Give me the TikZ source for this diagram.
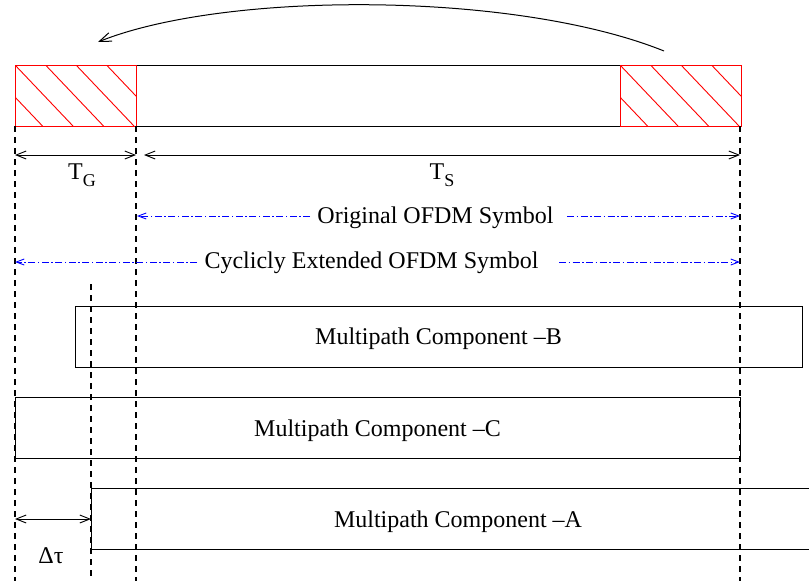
\documentclass[tikz,border=0pt]{standalone}
\usepackage{fontspec}
\setmainfont{Liberation Serif}
\usetikzlibrary{arrows.meta}
\begin{document}
\begin{tikzpicture}[x=1pt,y=-1pt,
  every node/.style={font=\fontsize{24}{28}\selectfont, inner sep=0pt},
  ln/.style={line width=1pt},
  guide/.style={line width=1.2pt, dash pattern=on 6pt off 5pt},
  span/.style={line width=0.9pt, {Straight Barb[length=10pt,width=8pt]}-{Straight Barb[length=10pt,width=8pt]}},
  blueline/.style={blue, line width=0.9pt, dash pattern=on 7pt off 2.5pt on 1.5pt off 2.5pt,
                   -{Straight Barb[length=8pt,width=6pt]}},
  cpbox/.style={minimum width=121pt, minimum height=61pt, anchor=north west},
  hatchline/.style={red, line width=0.9pt},
  pathbox/.style={draw, line width=1pt, minimum height=61pt, text height=16pt, text depth=0pt}]

\useasboundingbox (0,0) rectangle (809,581);
\clip (0,0) rectangle (809,581);

% ---- OFDM symbol with cyclic prefix -------------------------------------
\node (body) [anchor=north west, minimum width=484pt, minimum height=61pt] at (136,65) {};
\draw[ln] (body.north west) -- (body.north east) (body.south west) -- (body.south east);

\node (cpL) [cpbox] at (15,65) {};
\node (cpR) [cpbox] at (620,65) {};
\foreach \b/\x in {cpL/15, cpR/620}{
  \begin{scope}
    \clip (\b.north west) rectangle (\b.south east);
    \foreach \k in {-3,...,4}
      \draw[hatchline] (\x+\k*30.5,65) -- ++(58,61);
  \end{scope}
  \draw[red, line width=1pt] (\b.north west) rectangle (\b.south east);
}

% copy of the tail into the prefix
\coordinate (tailStart) at (664,51);
\coordinate (headEnd) at (98,42);
\draw[ln, -{Straight Barb[length=12pt,width=9pt]}] (tailStart) .. controls (515,-9) and (225,-9) .. (headEnd);

% ---- vertical time markers ------------------------------------------------
\coordinate (g0t) at (15,126);   \coordinate (g0b) at (15,581);
\coordinate (g1t) at (136,126);  \coordinate (g1b) at (136,581);
\coordinate (g2t) at (740,126);  \coordinate (g2b) at (740,581);
\coordinate (g3t) at (91,284);   \coordinate (g3b) at (91,581);
\draw[guide] (g0t) -- (g0b);
\draw[guide] (g1t) -- (g1b);
\draw[guide] (g2t) -- (g2b);
\draw[guide] (g3t) -- (g3b);

% ---- durations -------------------------------------------------------------
\coordinate (tgA) at (15,155);  \coordinate (tgB) at (136,155);
\coordinate (tsA) at (144,155); \coordinate (tsB) at (740,155);
\draw[span] (tgA) -- (tgB);
\draw[span] (tsA) -- (tsB);
\node (tg) [anchor=base] at (82,179) {T\lower7pt\hbox{\fontsize{18}{18}\selectfont G}};
\node (ts) [anchor=base] at (442,179) {T\lower7pt\hbox{\fontsize{18}{18}\selectfont S}};

% ---- symbol extents -------------------------------------------------------
\node (orig) [anchor=base] at (435.5,223) {Original OFDM Symbol};
\coordinate (o1) at (310,216); \coordinate (o2) at (137,216);
\coordinate (o3) at (567,216); \coordinate (o4) at (740,216);
\draw[blueline] (o1) -- (o2);
\draw[blueline] (o3) -- (o4);

\node (ext) [anchor=base] at (371.5,268) {Cyclicly Extended OFDM Symbol};
\coordinate (e1) at (197,262); \coordinate (e2) at (15,262);
\coordinate (e3) at (559,262); \coordinate (e4) at (740,262);
\draw[blueline] (e1) -- (e2);
\draw[blueline] (e3) -- (e4);

% ---- multipath components ---------------------------------------------------
\node (mpB) [pathbox, minimum width=727pt] at (438.5,336.5) {Multipath Component --B};
\node (mpC) [pathbox, minimum width=725pt] at (377.5,428) {Multipath Component --C};
\node (mpA) [pathbox, minimum width=734pt] at (458,519) {Multipath Component --A};

% ---- delay spread -----------------------------------------------------------
\coordinate (dA) at (15,519); \coordinate (dB) at (91,519);
\draw[span] (dA) -- (dB);
\node (dtau) [anchor=base] at (51,563) {Δτ};

\end{tikzpicture}
\end{document}
